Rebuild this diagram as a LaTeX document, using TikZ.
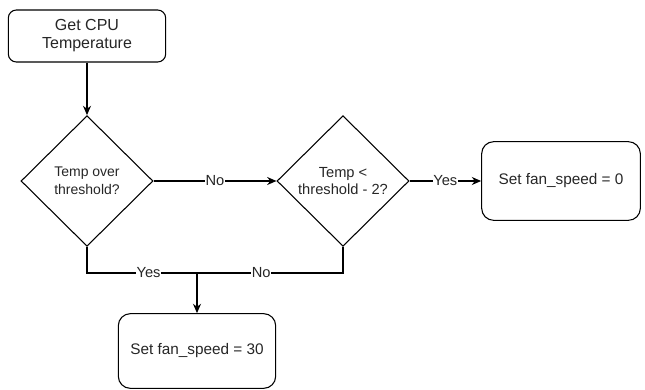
\documentclass[tikz,border=0pt]{standalone}
\usepackage{fontspec}
\setmainfont{Liberation Sans}
\usepackage{tikz}
\usetikzlibrary{arrows.meta,shapes.geometric}

\begin{document}
\begin{tikzpicture}[
      x=0.75pt,y=-0.75pt,
      >={Stealth[length=7pt,width=6pt]},
      step box/.style={draw,rounded corners=6pt,line width=0.8pt,inner sep=2pt,
                  align=center,font=\fontsize{11.5}{13.5}\selectfont,text=black!85},
      test/.style={draw,diamond,line width=0.8pt,minimum width=99pt,minimum height=98pt,
                  inner sep=0pt,align=center,font=\fontsize{10.5}{13.5}\selectfont,text=black!85},
      flow/.style={->,line width=0.8pt},
      link/.style={line width=0.8pt},
      lbl/.style={fill=white,inner sep=0.5pt,font=\fontsize{11}{12}\selectfont,text=black!85},
    ]
    \useasboundingbox (0,0) rectangle (645,389);
    \node[step box,font=\fontsize{12}{13.5}\selectfont,minimum width=118pt,minimum height=39pt] (get) at (87,36) {Get CPU\\Temperature};
    \node[test] (over) at (87,181) {Temp over\\threshold?};
    \node[test,font=\fontsize{11}{12.5}\selectfont] (under) at (343,181) {Temp <\\threshold - 2?};
    \node[step box,rounded corners=9pt,minimum width=119pt,minimum height=59pt] (zero) at (561,181) {Set fan\_speed = 0};
    \node[step box,rounded corners=9pt,minimum width=118pt,minimum height=56pt] (thirty) at (197,351) {Set fan\_speed = 30};
    \coordinate (mrg) at (197,273);
    \draw[flow] (get) -- (over);
    \draw[flow] (over) -- node[lbl] {No} (under);
    \draw[flow] (under) -- node[lbl] {Yes} (zero);
    \draw[link] (over.south) |- node[lbl,pos=0.78] {Yes} (mrg);
    \draw[link] (under.south) |- node[lbl,pos=0.78] {No} (mrg);
    \draw[flow] (mrg) -- (thirty);
  \end{tikzpicture}
\end{document}
